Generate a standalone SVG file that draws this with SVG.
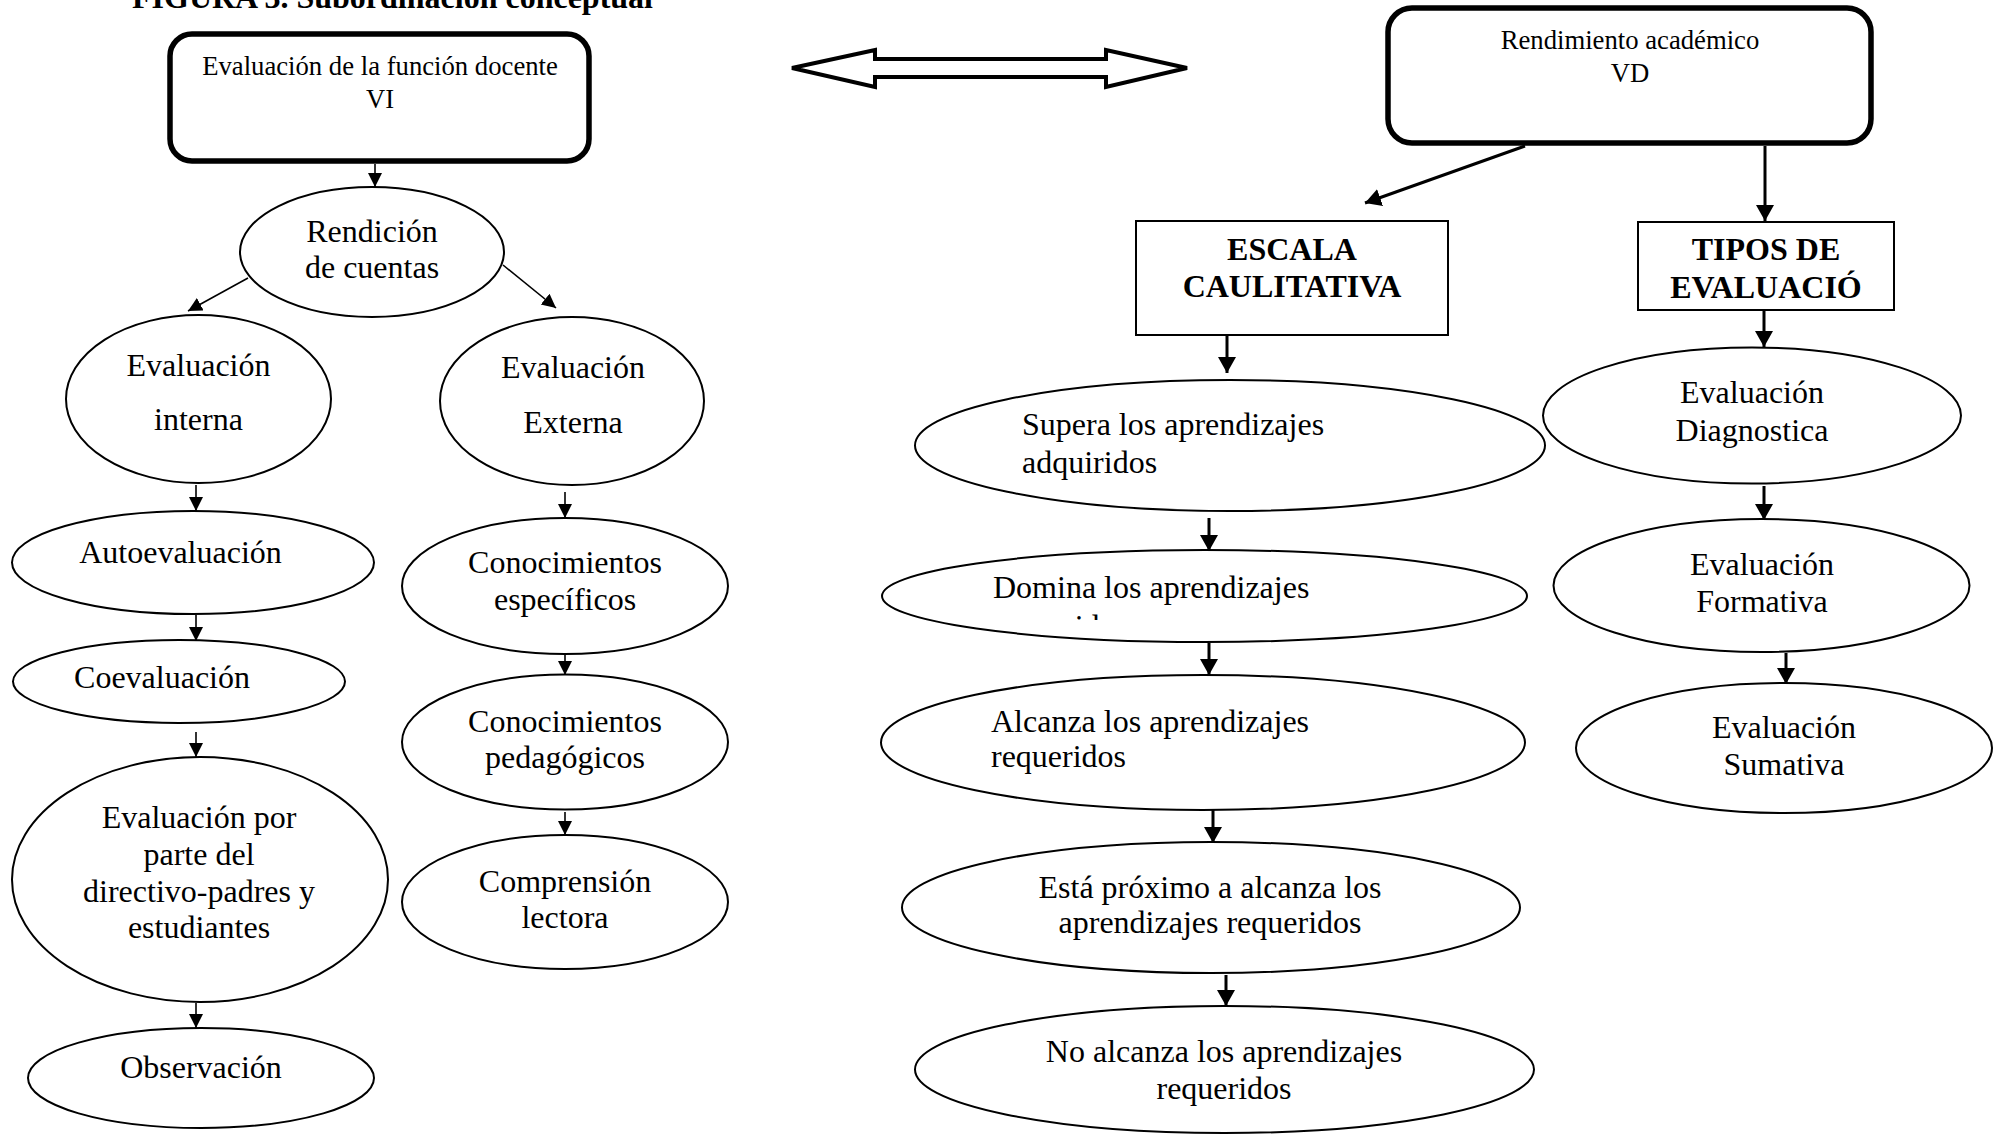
<svg xmlns="http://www.w3.org/2000/svg" width="2006" height="1135" viewBox="0 0 2006 1135">
<style>
text{font-family:"Liberation Serif","Times New Roman",serif;fill:#000}
.t{font-size:32px;text-anchor:middle}
.ts{font-size:32px;text-anchor:start}
.s{font-size:26.7px;text-anchor:middle}
.b{font-size:32px;font-weight:bold;text-anchor:middle}
.e{fill:#fff;stroke:#000;stroke-width:2}
.rb{fill:#fff;stroke:#000;stroke-width:5.5}
.bx{fill:#fff;stroke:#000;stroke-width:2}
.thin{stroke:#000;stroke-width:1.6;fill:none;marker-end:url(#ah)}
.thick{stroke:#000;stroke-width:3;fill:none;marker-end:url(#ahb)}
</style>
<defs>
<marker id="ah" markerUnits="userSpaceOnUse" markerWidth="15" markerHeight="15" refX="14" refY="7" orient="auto" viewBox="0 0 15 15">
<path d="M0,0 L14,7 L0,14 z" fill="#000"/>
</marker>
<marker id="ahb" markerUnits="userSpaceOnUse" markerWidth="17" markerHeight="19" refX="16" refY="9" orient="auto" viewBox="0 0 17 19">
<path d="M0,0 L16,9 L0,18 z" fill="#000"/>
</marker>
<clipPath id="domclip"><rect x="880" y="540" width="660" height="80"/></clipPath>
</defs>

<text x="132" y="8" style="font-size:32px;font-weight:bold">FIGURA 3. Subordinación conceptual</text>

<g id="doublearrow">
<polygon points="792,68 875,50 875,59 1106,59 1106,50 1187,68 1106,87 1106,77 875,77 875,87" fill="#fff" stroke="#000" stroke-width="4" stroke-linejoin="miter"/>
</g>

<g id="connectors">
<line class="thin" x1="375" y1="164" x2="375" y2="187"/>
<line class="thin" x1="248" y1="278" x2="188" y2="311"/>
<line class="thin" x1="503" y1="265" x2="556" y2="308"/>
<line class="thin" x1="196" y1="485" x2="196" y2="511"/>
<line class="thin" x1="196" y1="615" x2="196" y2="641"/>
<line class="thin" x1="196" y1="732" x2="196" y2="757"/>
<line class="thin" x1="196" y1="1003" x2="196" y2="1028"/>
<line class="thin" x1="565" y1="492" x2="565" y2="518"/>
<line class="thin" x1="565" y1="648" x2="565" y2="675"/>
<line class="thin" x1="565" y1="812" x2="565" y2="835"/>
<line class="thick" x1="1525" y1="146" x2="1365" y2="203"/>
<line class="thick" x1="1765" y1="146" x2="1765" y2="221"/>
<line class="thick" x1="1227" y1="335" x2="1227" y2="373"/>
<line class="thick" x1="1209" y1="518" x2="1209" y2="551"/>
<line class="thick" x1="1209" y1="643" x2="1209" y2="675"/>
<line class="thick" x1="1213" y1="810" x2="1213" y2="843"/>
<line class="thick" x1="1226" y1="975" x2="1226" y2="1006"/>
<line class="thick" x1="1764" y1="310" x2="1764" y2="347"/>
<line class="thick" x1="1764" y1="486" x2="1764" y2="520"/>
<line class="thick" x1="1786" y1="653" x2="1786" y2="684"/>
</g>

<g id="n-vi">
<rect class="rb" x="170" y="34" width="419" height="127" rx="22"/>
<text class="s" x="380" y="75">Evaluación de la función docente</text>
<text class="s" x="380" y="108">VI</text>
</g>

<g id="n-vd">
<rect class="rb" x="1388" y="8" width="483" height="135" rx="24"/>
<text class="s" x="1630" y="49">Rendimiento académico</text>
<text class="s" x="1630" y="82">VD</text>
</g>

<g id="n-rendicion">
<ellipse class="e" cx="372" cy="252" rx="132" ry="65"/>
<text class="t" x="372" y="242">Rendición</text>
<text class="t" x="372" y="278">de cuentas</text>
</g>

<g id="n-interna">
<ellipse class="e" cx="198.5" cy="399" rx="132.5" ry="84"/>
<text class="t" x="198.5" y="376">Evaluación</text>
<text class="t" x="198.5" y="430">interna</text>
</g>

<g id="n-externa">
<ellipse class="e" cx="572" cy="401" rx="132" ry="84"/>
<text class="t" x="573" y="378">Evaluación</text>
<text class="t" x="573" y="433">Externa</text>
</g>

<g id="n-auto">
<ellipse class="e" cx="193" cy="562.5" rx="181" ry="51.5"/>
<text class="t" x="180.5" y="563">Autoevaluación</text>
</g>

<g id="n-coe">
<ellipse class="e" cx="179" cy="681.5" rx="166" ry="41.5"/>
<text class="t" x="162" y="688">Coevaluación</text>
</g>

<g id="n-evalpor">
<ellipse class="e" cx="200" cy="879.5" rx="188" ry="122.5"/>
<text class="t" x="199" y="828">Evaluación por</text>
<text class="t" x="199" y="865">parte del</text>
<text class="t" x="199" y="902">directivo-padres y</text>
<text class="t" x="199" y="938">estudiantes</text>
</g>

<g id="n-obs">
<ellipse class="e" cx="201" cy="1078" rx="173" ry="50"/>
<text class="t" x="201" y="1078">Observación</text>
</g>

<g id="n-conesp">
<ellipse class="e" cx="565" cy="586" rx="163" ry="68"/>
<text class="t" x="565" y="573">Conocimientos</text>
<text class="t" x="565" y="610">específicos</text>
</g>

<g id="n-conped">
<ellipse class="e" cx="565" cy="742" rx="163" ry="67.5"/>
<text class="t" x="565" y="732">Conocimientos</text>
<text class="t" x="565" y="768">pedagógicos</text>
</g>

<g id="n-compr">
<ellipse class="e" cx="565" cy="902" rx="163" ry="67"/>
<text class="t" x="565" y="892">Comprensión</text>
<text class="t" x="565" y="928">lectora</text>
</g>

<g id="n-escala">
<rect class="bx" x="1136" y="221" width="312" height="114"/>
<text class="b" x="1292" y="260">ESCALA</text>
<text class="b" x="1292" y="297">CAULITATIVA</text>
</g>

<g id="n-tipos">
<rect class="bx" x="1638" y="222" width="256" height="88"/>
<text class="b" x="1766" y="260">TIPOS DE</text>
<text class="b" x="1766" y="298">EVALUACIÓ</text>
</g>

<g id="n-supera">
<ellipse class="e" cx="1230" cy="445.5" rx="315" ry="65.5"/>
<text class="ts" x="1022" y="435">Supera los aprendizajes</text>
<text class="ts" x="1022" y="473">adquiridos</text>
</g>

<g id="n-domina">
<ellipse class="e" cx="1204.5" cy="596" rx="322.5" ry="46"/>
<text class="ts" x="993" y="598">Domina los aprendizajes</text>
<text class="ts" x="993" y="637" clip-path="url(#domclip)">requeridos</text>
</g>

<g id="n-alcanza">
<ellipse class="e" cx="1203" cy="742.5" rx="322" ry="67.5"/>
<text class="ts" x="991" y="732">Alcanza los aprendizajes</text>
<text class="ts" x="991" y="767">requeridos</text>
</g>

<g id="n-esta">
<ellipse class="e" cx="1211" cy="907.5" rx="309" ry="65.5"/>
<text class="t" x="1210" y="898">Está próximo a alcanza los</text>
<text class="t" x="1210" y="933">aprendizajes requeridos</text>
</g>

<g id="n-noalcanza">
<ellipse class="e" cx="1224.5" cy="1069.5" rx="309.5" ry="63.5"/>
<text class="t" x="1224" y="1062">No alcanza los aprendizajes</text>
<text class="t" x="1224" y="1099">requeridos</text>
</g>

<g id="n-diag">
<ellipse class="e" cx="1752" cy="415.5" rx="209" ry="68"/>
<text class="t" x="1752" y="403">Evaluación</text>
<text class="t" x="1752" y="441">Diagnostica</text>
</g>

<g id="n-form">
<ellipse class="e" cx="1761.5" cy="585.5" rx="208" ry="66.5"/>
<text class="t" x="1762" y="575">Evaluación</text>
<text class="t" x="1762" y="612">Formativa</text>
</g>

<g id="n-sum">
<ellipse class="e" cx="1784" cy="748" rx="208" ry="65"/>
<text class="t" x="1784" y="738">Evaluación</text>
<text class="t" x="1784" y="775">Sumativa</text>
</g>
</svg>
